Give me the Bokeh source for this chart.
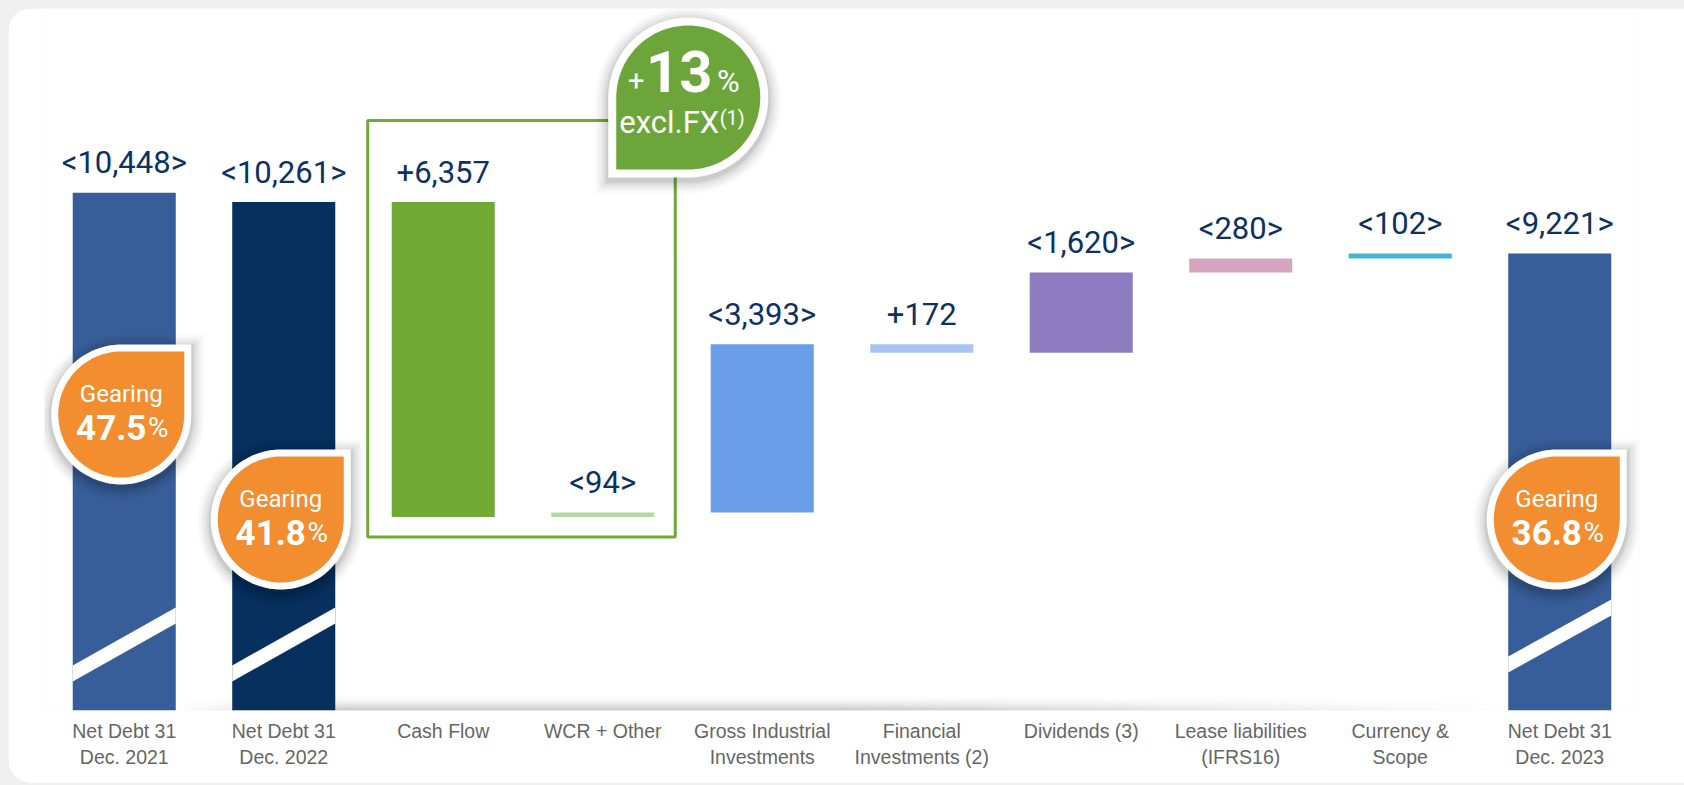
import math
import numpy as np
from bokeh.plotting import figure
from bokeh.models import FixedTicker, Range1d
from bokeh.core.properties import value
from bokeh.embed import file_html
from bokeh.resources import INLINE

# ---------------- data ----------------
categories = ["Net Debt 31\nDec. 2021", "Net Debt 31\nDec. 2022", "Cash Flow", "WCR + Other",
              "Gross Industrial\nInvestments", "Financial\nInvestments (2)", "Dividends (3)",
              "Lease liabilities\n(IFRS16)", "Currency &\nScope", "Net Debt 31\nDec. 2023"]
kinds = ["total", "total", "step", "step", "step", "step", "step", "step", "step", "total"]
net_debt_change = [10448, 10261, -6357, 94, 3393, -172, 1620, 280, 102, 9221]
value_labels = ["<10,448>", "<10,261>", "+6,357", "<94>", "<3,393>", "+172",
                "<1,620>", "<280>", "<102>", "<9,221>"]
bar_colors = ["#385E99", "#07305E", "#70AA35", "#B5D8A3", "#6B9EE8", "#A8C4F2",
              "#8D7DC0", "#D5A5C0", "#41B6D3", "#385E99"]
gearing_bars = [0, 1, 9]
gearing_values = ["47.5", "41.8", "36.8"]
fx_growth = "13"

# ---------------- waterfall geometry ----------------
bottoms, tops = [], []
level = 0
for k, v in zip(kinds, net_debt_change):
    if k == "total":
        bottoms.append(0)
        tops.append(v)
        level = v
    else:
        new = level + v
        bottoms.append(min(level, new))
        tops.append(max(level, new))
        level = new
idx = list(range(len(categories)))

# ---------------- layout ----------------
W, H = 1676, 775
BL, BB = 36, 73
FRAME_W = 1595
BR = W - BL - FRAME_W
FRAME_H = H - BB
X0, X1 = -0.5, 9.5
Y_END = 14166
PXX = FRAME_W / (X1 - X0)
YPP = Y_END / FRAME_H


def px_x(px):
    return px / PXX


def px_y(px):
    return px * YPP


BAR_W = 0.646
NAVY = "#0C3163"
ORANGE = "#F28D30"
GREEN = "#6CA63A"

p = figure(width=W, height=H, x_range=Range1d(X0, X1), y_range=Range1d(0, Y_END),
           output_backend="svg", toolbar_location=None, y_axis_location=None, title=None,
           min_border_left=BL, min_border_right=BR, min_border_top=0, min_border_bottom=BB,
           background_fill_color="white", border_fill_color="white", outline_line_color=None,
           styles={"margin": "8px 0 0 8px", "border-radius": "24px 0 0 24px",
                   "overflow": "hidden", "box-shadow": "16px 0 0 0 #ffffff"})
p.grid.visible = False
ax = p.xaxis[0]
ax.ticker = FixedTicker(ticks=idx)
ax.major_label_overrides = {i: c for i, c in enumerate(categories)}
ax.axis_line_color = None
ax.major_tick_line_color = None
ax.minor_tick_line_color = None
ax.major_label_standoff = 3
ax.major_label_text_font = "Liberation Sans"
ax.major_label_text_font_size = "19.5px"
ax.major_label_text_color = "#666666"

# baseline soft shadow as a smooth gradient image
SX0, SX1, SH = 0.3, 8.7, 17
ncols = int((SX1 - SX0) * PXX)
img = np.zeros((SH, ncols), dtype=np.uint32)
view = img.view(dtype=np.uint8).reshape((SH, ncols, 4))
xm = SX0 + (np.arange(ncols) + 0.5) / PXX
fx = np.where(xm < 1.4, (xm - SX0) / 1.1, np.where(xm < 4.5, 1.0, np.clip((SX1 - xm) / 4.2, 0, 1)))
fy = (1 - np.arange(SH) / SH) ** 2
alpha = 0.26 * fy[:, None] * fx[None, :]
view[:, :, 0] = 40
view[:, :, 1] = 40
view[:, :, 2] = 40
view[:, :, 3] = np.clip(alpha * 255, 0, 255).astype(np.uint8)
p.image_rgba(image=[img], x=SX0, y=0, dw=SX1 - SX0, dh=px_y(SH))

# bars
p.vbar(x=idx, width=BAR_W, bottom=bottoms, top=tops, fill_color=bar_colors, line_color=None)

# diagonal break stripes on total bars
stripe_low = {0: (29, 87), 1: (29, 87), 9: (38, 95)}
sxs, sys_ = [], []
for i, (lo_l, lo_r) in stripe_low.items():
    xl, xr = i - BAR_W / 2, i + BAR_W / 2
    sxs.append([xl, xr, xr, xl])
    sys_.append([px_y(lo_l), px_y(lo_r), px_y(lo_r + 16), px_y(lo_l + 16)])
p.patches(sxs, sys_, fill_color="white", line_color=None)

# value labels
p.text(x=idx, y=[t + px_y(30) for t in tops], text=value_labels, text_align="center",
       text_baseline="middle", text_font=value("Roboto"), text_font_size="31px", text_color=NAVY)

# green frame around cash-flow group
box_left = 2 - BAR_W / 2 - px_x(24)
box_right = 3 + BAR_W / 2 + px_x(21)
box_top = max(tops[2:4]) + px_y(81.5)
box_bottom = min(bottoms[2:4]) - px_y(20)
p.quad(left=[box_left], right=[box_right], top=[box_top], bottom=[box_bottom],
       fill_color=None, line_color="#6FAA34", line_width=3)


def teardrop(cx, cy, r, corner, dyp=0.0):
    if corner == "tr":
        a0, ccx, ccy = 90, r, r
    else:
        a0, ccx, ccy = 270, -r, -r
    xs, ys = [], []
    for s in range(0, 271, 3):
        a = math.radians(a0 + s)
        xs.append(cx + px_x(r * math.cos(a)))
        ys.append(cy + px_y(r * math.sin(a) + dyp))
    xs.append(cx + px_x(ccx))
    ys.append(cy + px_y(ccy + dyp))
    return xs, ys


def badge(cx, cy, r_in, r_out, corner, color):
    for extra, alpha_ in [(13, 0.025), (10, 0.035), (7, 0.045), (4, 0.055), (2, 0.06)]:
        xs, ys = teardrop(cx, cy, r_out + extra, corner, dyp=-3)
        p.patch(xs, ys, fill_color="black", fill_alpha=alpha_, line_color=None)
    xs, ys = teardrop(cx, cy, r_out, corner)
    p.patch(xs, ys, fill_color="white", line_color=None)
    xs, ys = teardrop(cx, cy, r_in, corner)
    p.patch(xs, ys, fill_color=color, line_color=None)


def label(x, y, txt, size, bold=False, align="center"):
    p.text(x=[x], y=[y], text=[txt], text_align=align, text_baseline="middle",
           text_font=value("Roboto"), text_font_size=size, text_color="white",
           text_font_style="bold" if bold else "normal")


# gearing badges
badge_height_px = [296, 191, 191]
for i, g, hpx in zip(gearing_bars, gearing_values, badge_height_px):
    cx = i + px_x(-3)
    cy = px_y(hpx)
    badge(cx, cy, 63, 70, "tr", ORANGE)
    label(cx, cy + px_y(21), "Gearing", "24px")
    label(cx + px_x(-10), cy - px_y(13), g, "35px", bold=True)
    label(cx + px_x(37), cy - px_y(13), "%", "28px")

# +13% excl. FX badge
gcx = box_right + px_x(13)
gcy = box_top + px_y(23)
badge(gcx, gcy, 72, 80, "bl", GREEN)
label(gcx + px_x(-52), gcy + px_y(17), "+", "29px")
label(gcx + px_x(-9), gcy + px_y(26), fx_growth, "58px", bold=True)
label(gcx + px_x(40), gcy + px_y(16), "%", "31px")
label(gcx + px_x(-19), gcy - px_y(25), "excl.FX", "31px")
label(gcx + px_x(44), gcy - px_y(20), "(1)", "20px")

html = file_html(p, INLINE)
html = html.replace(
    "</head>",
    "<style>html, body { background-color: #efefef !important; overflow: hidden !important; }</style></head>",
    1)
open("out.html", "w").write(html)
